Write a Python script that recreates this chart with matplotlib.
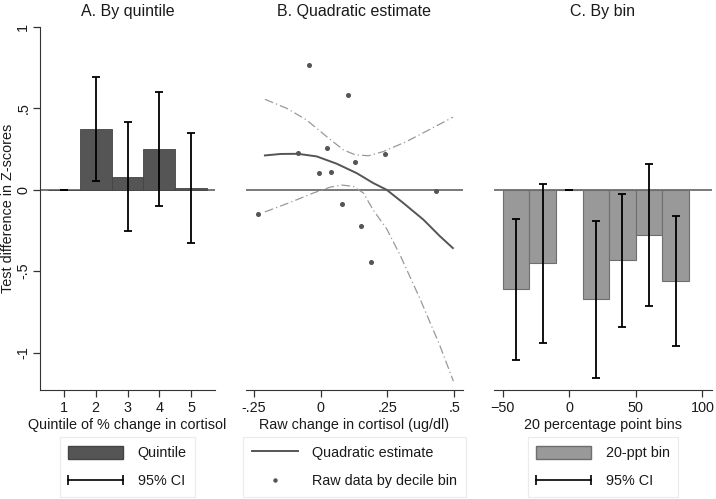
import matplotlib
matplotlib.use("Agg")
import matplotlib.pyplot as plt
from matplotlib.lines import Line2D
from matplotlib.patches import Patch
from matplotlib.legend_handler import HandlerLine2D

plt.rcParams['font.family'] = ['Liberation Sans', 'DejaVu Sans']

# A. By quintile
quintiles = [1, 2, 3, 4, 5]
quint_est = [0.0, 0.372, 0.078, 0.25, 0.01]
quint_lo = [0.0, 0.051, -0.256, -0.10, -0.33]
quint_hi = [0.0, 0.695, 0.415, 0.60, 0.35]

# B. Quadratic estimate
raw_x = [-0.236, -0.086, -0.045, -0.005, 0.022, 0.039, 0.080, 0.102, 0.130, 0.152, 0.187, 0.241, 0.430]
raw_y = [-0.147, 0.223, 0.769, 0.102, 0.258, 0.110, -0.086, 0.585, 0.168, -0.225, -0.444, 0.221, -0.006]
fit_x = [-0.209, -0.15, -0.086, -0.015, 0.060, 0.135, 0.197, 0.247, 0.310, 0.385, 0.447, 0.495]
fit_y = [0.211, 0.220, 0.221, 0.205, 0.160, 0.102, 0.041, 0.0, -0.082, -0.184, -0.286, -0.358]
upper_x = [-0.209, -0.128, -0.053, 0.022, 0.085, 0.129, 0.179, 0.235, 0.322, 0.410, 0.495]
upper_y = [0.556, 0.501, 0.429, 0.327, 0.245, 0.215, 0.209, 0.235, 0.297, 0.372, 0.446]
lower_x = [-0.209, -0.115, -0.028, 0.035, 0.079, 0.122, 0.160, 0.197, 0.247, 0.297, 0.372, 0.447, 0.497]
lower_y = [-0.136, -0.078, -0.020, 0.016, 0.029, 0.021, -0.020, -0.125, -0.240, -0.400, -0.670, -0.960, -1.176]

# C. By bin
bins = [-40, -20, 0, 20, 40, 60, 80]
bin_est = [-0.607, -0.452, 0.0, -0.671, -0.434, -0.278, -0.560]
bin_lo = [-1.043, -0.941, 0.0, -1.155, -0.843, -0.716, -0.961]
bin_hi = [-0.178, 0.033, 0.0, -0.190, -0.027, 0.160, -0.164]

W, H = 716, 499
fig = plt.figure(figsize=(W / 100, H / 100), dpi=100)

def box(x0, x1, y0=27, y1=390):
    return [x0 / W, 1 - y1 / H, (x1 - x0) / W, (y1 - y0) / H]

axA = fig.add_axes(box(40, 215))
axB = fig.add_axes(box(245.7, 463))
axC = fig.add_axes(box(494, 711.7))

fs = 10.4
dark = '#1a1a1a'
for ax in (axA, axB, axC):
    ax.set_ylim(-1.23, 1.0)
    for s in ('top', 'right'):
        ax.spines[s].set_visible(False)
    ax.spines['bottom'].set_color('#333333')
    ax.spines['left'].set_color('#333333')
    ax.tick_params(axis='x', length=5, width=0.9, pad=3, labelsize=fs, colors='#333333', labelcolor=dark)
    ax.axhline(0, color='#555555', lw=1.1, zorder=1)

for ax in (axB, axC):
    ax.spines['left'].set_visible(False)
    ax.set_yticks([])

# panel A
axA.bar(quintiles, quint_est, width=1.0, color='#555555', edgecolor='#444444', lw=0.6, zorder=2)
axA.errorbar(quintiles, quint_est,
             yerr=[[e - l for e, l in zip(quint_est, quint_lo)], [h - e for e, h in zip(quint_est, quint_hi)]],
             fmt='none', ecolor='black', elinewidth=1.3, capsize=3, capthick=1.3, zorder=3)
axA.set_xlim(0.25, 5.75)
axA.set_xticks(quintiles)
axA.set_yticks([-1, -0.5, 0, 0.5, 1])
axA.set_yticklabels(['-1', '-.5', '0', '.5', '1'])
axA.tick_params(axis='y', length=5, width=0.9, pad=2, labelsize=fs, labelrotation=90,
                colors='#333333', labelcolor=dark)
for t in axA.get_yticklabels():
    t.set_va('center')
axA.set_ylabel('Test difference in Z-scores', fontsize=fs, color=dark)
axA.yaxis.set_label_coords(-0.14, 0.5)
axA.set_xlabel('Quintile of % change in cortisol', fontsize=fs, color=dark, labelpad=2)
axA.set_title('A. By quintile', fontsize=11.5, color=dark, pad=8)

# panel B
axB.plot(upper_x, upper_y, color='#999999', lw=0.9, dashes=(7, 2.5, 1, 2.5), zorder=2)
axB.plot(lower_x, lower_y, color='#999999', lw=0.9, dashes=(7, 2.5, 1, 2.5), zorder=2)
axB.plot(fit_x, fit_y, color='#555555', lw=1.4, zorder=3)
axB.plot(raw_x, raw_y, ls='none', marker='o', markersize=2.6, color='#555555', zorder=4)
axB.set_xlim(-0.281, 0.533)
axB.set_xticks([-0.25, 0, 0.25, 0.5])
axB.set_xticklabels(['-.25', '0', '.25', '.5'])
axB.set_xlabel('Raw change in cortisol (ug/dl)', fontsize=fs, color=dark, labelpad=2)
axB.set_title('B. Quadratic estimate', fontsize=11.5, color=dark, pad=8)

# panel C
axC.bar(bins, bin_est, width=20, color='#999999', edgecolor='#6e6e6e', lw=0.8, zorder=2)
axC.errorbar(bins, bin_est,
             yerr=[[e - l for e, l in zip(bin_est, bin_lo)], [h - e for e, h in zip(bin_est, bin_hi)]],
             fmt='none', ecolor='black', elinewidth=1.3, capsize=3, capthick=1.3, zorder=3)
axC.set_xlim(-56.5, 107)
axC.set_xticks([-50, 0, 50, 100])
axC.set_xlabel('20 percentage point bins', fontsize=fs, color=dark, labelpad=2)
axC.set_title('C. By bin', fontsize=11.5, color=dark, pad=8)

# legends
def ci_handle():
    return Line2D([], [], color='black', lw=1.2, marker='|', markersize=7, markeredgewidth=1.2)

leg_kw = dict(loc='center', frameon=True, fancybox=False, edgecolor='#e6e6e6', fontsize=fs,
              handleheight=1.0, handletextpad=1.0, labelspacing=0.95, borderpad=0.6)

ciA = ci_handle()
legA = fig.legend([Patch(facecolor='#555555', edgecolor='#444444'), ciA], ['Quintile', '95% CI'],
                  bbox_to_anchor=(127.5 / W, 1 - 467 / H), numpoints=2, handlelength=3.8,
                  handler_map={ciA: HandlerLine2D(marker_pad=0, numpoints=2)}, **leg_kw)
legB = fig.legend([Line2D([], [], color='#555555', lw=1.4),
                   Line2D([], [], ls='none', marker='o', markersize=2.2, color='#555555')],
                  ['Quadratic estimate', 'Raw data by decile bin'],
                  bbox_to_anchor=(354.4 / W, 1 - 467 / H), numpoints=1, handlelength=3.2, **leg_kw)
ciC = ci_handle()
legC = fig.legend([Patch(facecolor='#999999', edgecolor='#6e6e6e'), ciC], ['20-ppt bin', '95% CI'],
                  bbox_to_anchor=(603 / W, 1 - 467 / H), numpoints=2, handlelength=3.8,
                  handler_map={ciC: HandlerLine2D(marker_pad=0, numpoints=2)}, **leg_kw)
for leg in (legA, legB, legC):
    leg.get_frame().set_linewidth(0.8)
    for t in leg.get_texts():
        t.set_color(dark)

fig.savefig('out.png', dpi=100)
